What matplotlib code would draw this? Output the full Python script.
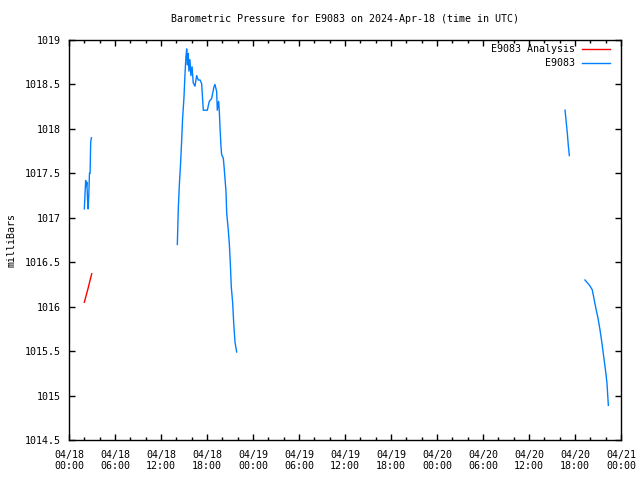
import numpy as np
import matplotlib
matplotlib.use("Agg")
import matplotlib.pyplot as plt
import matplotlib.dates as mdates
from datetime import datetime, timedelta

# hours after 2024-04-18 00:00 UTC, pressure in mb
start = datetime(2024, 4, 18)

obs_segments = [
    ([2.0, 2.08, 2.17, 2.25, 2.33, 2.42, 2.5, 2.58, 2.67, 2.75, 2.83, 2.92],
     [1017.1, 1017.25, 1017.42, 1017.35, 1017.40, 1017.2, 1017.1, 1017.25,
      1017.5, 1017.5, 1017.85, 1017.9]),
    ([14.13, 14.25, 14.38, 14.56, 14.69, 14.82, 15.0, 15.12, 15.25, 15.35,
      15.45, 15.55, 15.64, 15.77, 15.9, 16.05, 16.2, 16.43, 16.65, 16.86,
      17.1, 17.3, 17.52, 18.04, 18.3, 18.6, 18.9, 19.04, 19.26, 19.34, 19.52,
      19.6, 19.7, 19.82, 19.91, 20.13, 20.26, 20.48, 20.57, 20.78, 20.91,
      21.04, 21.17, 21.35, 21.48, 21.65, 21.87],
     [1016.7, 1017.09, 1017.35, 1017.62, 1017.86, 1018.12, 1018.36, 1018.6,
      1018.81, 1018.9, 1018.72, 1018.85, 1018.65, 1018.78, 1018.6, 1018.7,
      1018.52, 1018.48, 1018.6, 1018.55, 1018.55, 1018.51, 1018.21, 1018.21,
      1018.31, 1018.34, 1018.47, 1018.5, 1018.42, 1018.21, 1018.31, 1018.21,
      1018.01, 1017.81, 1017.71, 1017.67, 1017.54, 1017.29, 1017.05, 1016.86,
      1016.71, 1016.49, 1016.22, 1016.04, 1015.82, 1015.6, 1015.49]),
    ([64.7, 64.85, 65.0, 65.12, 65.26],
     [1018.21, 1018.08, 1017.95, 1017.82, 1017.7]),
    ([67.3, 67.6, 67.9, 68.25, 68.5, 68.75, 69.0, 69.26, 69.5, 69.74, 70.0,
      70.17, 70.35],
     [1016.3, 1016.27, 1016.24, 1016.19, 1016.08, 1015.97, 1015.87, 1015.74,
      1015.6, 1015.44, 1015.27, 1015.14, 1014.89]),
]

ana_hours = [2.0, 2.5, 2.96]
ana_values = [1016.05, 1016.21, 1016.37]

blue = "#0080ff"
red = "#ff0000"

plt.rcParams["font.family"] = "DejaVu Sans Mono"
plt.rcParams["font.size"] = 7.2

def to_dt(hours):
    return [start + timedelta(hours=h) for h in hours]

fig = plt.figure(figsize=(6.4, 4.8), dpi=100)
ax = fig.add_axes([69 / 640, 40 / 480, 552 / 640, 400 / 480])

ax.plot(to_dt(ana_hours), ana_values, color=red, lw=1)
for hrs, vals in obs_segments:
    ax.plot(to_dt(hrs), vals, color=blue, lw=1)

ax.set_xlim(start, start + timedelta(hours=72))
ax.set_ylim(1014.5, 1019)
ax.set_yticks(np.arange(1014.5, 1019.01, 0.5))
ax.set_yticklabels(["1014.5", "1015", "1015.5", "1016", "1016.5",
                    "1017", "1017.5", "1018", "1018.5", "1019"])

ax.xaxis.set_major_locator(mdates.HourLocator(byhour=[0, 6, 12, 18]))
ax.xaxis.set_minor_locator(mdates.HourLocator(byhour=range(0, 24, 2)))
ax.xaxis.set_major_formatter(mdates.DateFormatter("%m/%d\n%H:%M"))

ax.tick_params(which="major", direction="in", length=4, width=1,
               top=True, right=True, pad=6)
ax.tick_params(which="minor", direction="in", length=2.2, width=1,
               top=True, right=False)
ax.tick_params(axis="x", which="major", pad=7)
for s in ax.spines.values():
    s.set_linewidth(1)

ax.set_title("Barometric Pressure for E9083 on 2024-Apr-18 (time in UTC)",
             fontsize=7.2, pad=13)
ax.set_ylabel("milliBars", labelpad=6)

# gnuplot-style key: right-aligned text with line sample to its right
for y, label, c in [(0.9775, "E9083 Analysis", red), (0.9425, "E9083", blue)]:
    ax.text(0.917, y, label, transform=ax.transAxes, ha="right", va="center")
    ax.plot([0.929, 0.98], [y, y], transform=ax.transAxes, color=c, lw=1)

fig.savefig("out.png", dpi=100)
